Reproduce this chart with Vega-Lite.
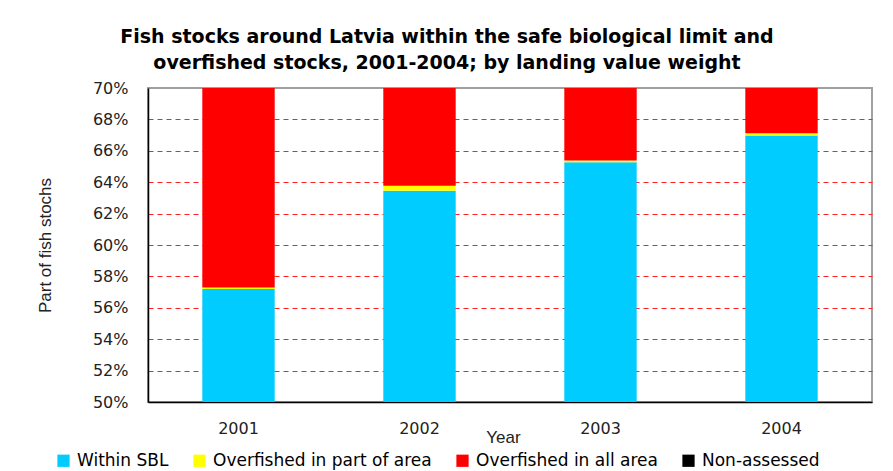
{
  "$schema": "https://vega.github.io/schema/vega-lite/v6.json",
  "autosize": {"type": "none"},
  "width": 724,
  "height": 314,
  "padding": {"left": 148, "top": 88, "right": 21, "bottom": 69},
  "background": "white",
  "title": {
    "text": ["Fish stocks around Latvia within the safe biological limit and", "overfished stocks, 2001-2004; by landing value weight"],
    "font": "DejaVu Sans",
    "fontSize": 19,
    "fontWeight": "bold",
    "color": "#000000",
    "anchor": "middle",
    "dx": -63,
    "offset": 7,
    "lineHeight": 26
  },
  "data": {
    "values": [
      {"year": "2001", "status": "Within SBL", "rank": 1, "share": 0.572},
      {"year": "2001", "status": "Overfished in part of area", "rank": 2, "share": 0.001},
      {"year": "2001", "status": "Overfished in all area", "rank": 3, "share": 0.427},
      {"year": "2001", "status": "Non-assessed", "rank": 4, "share": 0.0},
      {"year": "2002", "status": "Within SBL", "rank": 1, "share": 0.6345},
      {"year": "2002", "status": "Overfished in part of area", "rank": 2, "share": 0.0032},
      {"year": "2002", "status": "Overfished in all area", "rank": 3, "share": 0.3623},
      {"year": "2002", "status": "Non-assessed", "rank": 4, "share": 0.0},
      {"year": "2003", "status": "Within SBL", "rank": 1, "share": 0.6527},
      {"year": "2003", "status": "Overfished in part of area", "rank": 2, "share": 0.0012},
      {"year": "2003", "status": "Overfished in all area", "rank": 3, "share": 0.3461},
      {"year": "2003", "status": "Non-assessed", "rank": 4, "share": 0.0},
      {"year": "2004", "status": "Within SBL", "rank": 1, "share": 0.6697},
      {"year": "2004", "status": "Overfished in part of area", "rank": 2, "share": 0.0015},
      {"year": "2004", "status": "Overfished in all area", "rank": 3, "share": 0.3288},
      {"year": "2004", "status": "Non-assessed", "rank": 4, "share": 0.0}
    ]
  },
  "mark": {"type": "bar", "clip": true},
  "encoding": {
    "x": {
      "field": "year",
      "type": "ordinal",
      "scale": {"paddingInner": 0.6, "paddingOuter": 0.3},
      "axis": {
        "title": "Year",
        "labelAngle": 0,
        "labelPadding": 18,
        "ticks": false,
        "domainColor": "#000000",
        "domainWidth": 1.5,
        "titleX": 355,
        "titleY": 35,
        "titleBaseline": "middle",
        "titleAlign": "center"
      }
    },
    "y": {
      "field": "share",
      "type": "quantitative",
      "stack": "zero",
      "scale": {"domain": [0.5, 0.7], "nice": false, "zero": false},
      "axis": {
        "title": "Part of fish stochs",
        "format": ".0%",
        "values": [0.5, 0.52, 0.54, 0.56, 0.58, 0.6, 0.62, 0.64, 0.66, 0.68, 0.7],
        "ticks": false,
        "labelPadding": 20,
        "domainColor": "#000000",
        "domainWidth": 1.5,
        "grid": true,
        "gridColor": {"condition": {"test": "datum.value < 0.51 || datum.value > 0.69", "value": "transparent"}, "value": "#ff2020"},
        "gridDash": [5, 4],
        "gridWidth": 1,
        "titleX": -103,
        "titleY": 157,
        "titleAngle": 270,
        "titleAlign": "center",
        "titleBaseline": "middle"
      }
    },
    "color": {
      "field": "status",
      "type": "nominal",
      "scale": {
        "domain": ["Within SBL", "Overfished in part of area", "Overfished in all area", "Non-assessed"],
        "range": ["#00ccff", "#ffff00", "#ff0000", "#000000"]
      },
      "legend": {
        "title": null,
        "orient": "none",
        "direction": "horizontal",
        "legendX": -93,
        "legendY": 364,
        "symbolType": "square",
        "symbolSize": 150,
        "symbolStrokeWidth": 0,
        "symbolOpacity": 1,
        "labelOffset": 5,
        "columnPadding": 22,
        "labelFont": "DejaVu Sans",
        "labelFontSize": 17,
        "labelColor": "#000000",
        "labelLimit": 400
      }
    },
    "order": {"field": "rank", "type": "quantitative"}
  },
  "config": {
    "view": {"stroke": "#a0a0a0", "strokeWidth": 2},
    "axis": {
      "labelFont": "DejaVu Sans",
      "labelFontSize": 16,
      "labelColor": "#222222",
      "titleFont": "Liberation Sans",
      "titleFontSize": 17,
      "titleFontWeight": "normal",
      "titleColor": "#222222"
    }
  }
}
